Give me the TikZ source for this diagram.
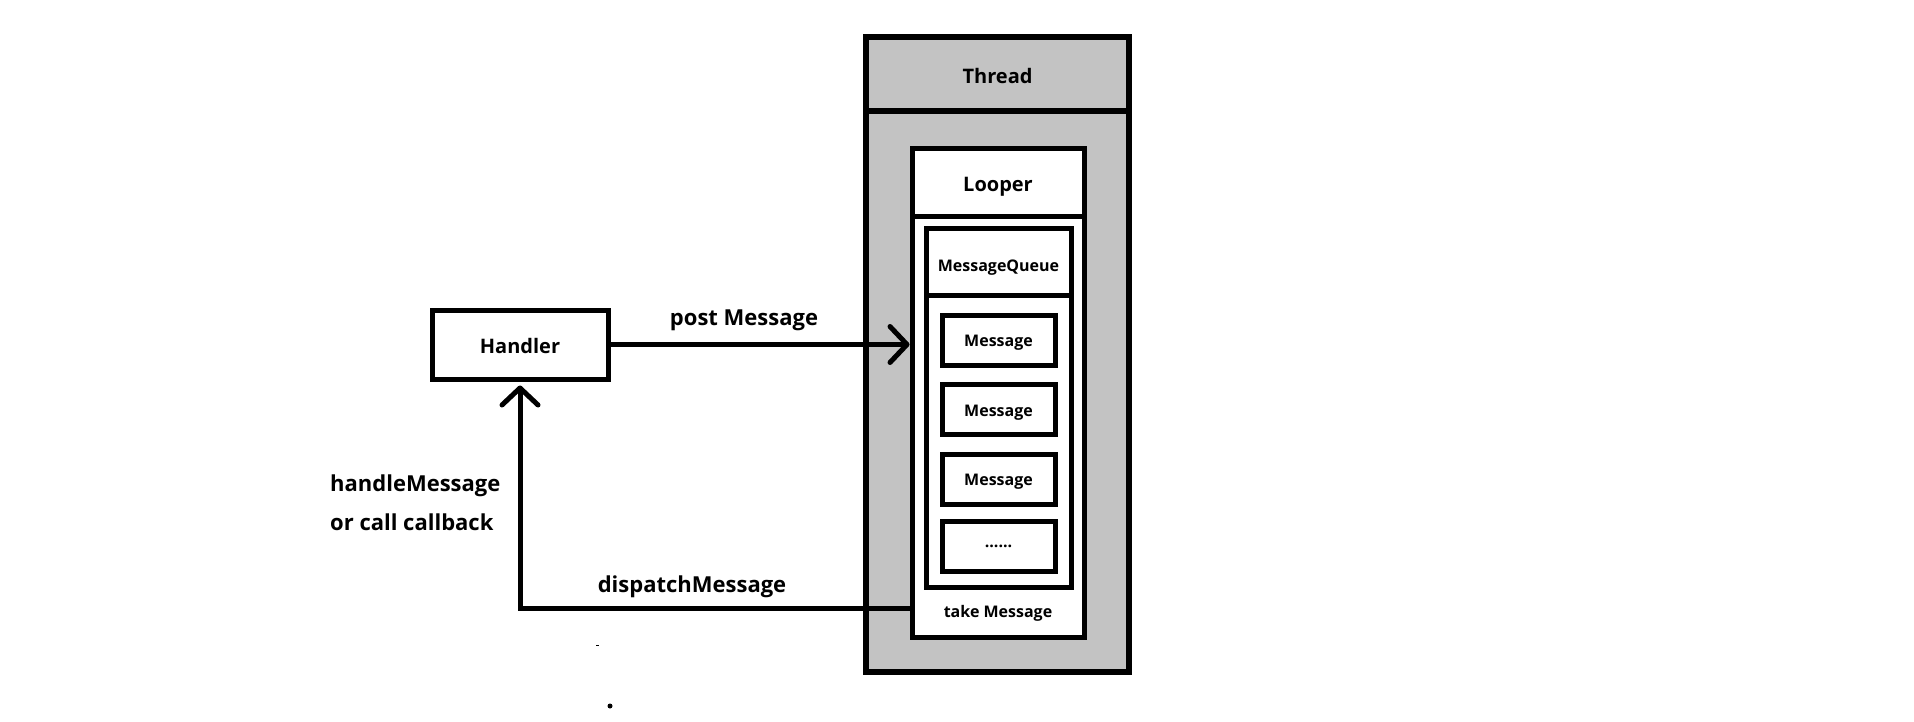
\documentclass[tikz,border=0pt]{standalone}
\usepackage{fontspec}
\setmainfont{Open Sans}
\usetikzlibrary{positioning}
\usetikzlibrary{arrows.meta}
\definecolor{threadgray}{RGB}{195,195,195}
\tikzstyle{box} = [draw, rectangle, line width=5pt, fill=white, inner sep=0pt, text height=19pt, text depth=0pt, font=\bfseries\fontsize{20}{24}\selectfont]
\tikzstyle{threadbox} = [box, line width=6.5pt, fill=threadgray]
\tikzstyle{msgbox} = [box, minimum width=113pt, minimum height=50pt, text height=13pt, font=\bfseries\fontsize{16}{19}\selectfont]
\tikzstyle{small} = [inner sep=0pt, font=\bfseries\fontsize{16}{19}\selectfont]
\tikzstyle{lbl} = [inner sep=0pt, font=\bfseries\fontsize{22}{39}\selectfont]
\tikzstyle{flow} = [line width=5pt, -{Straight Barb[length=17pt, width=36pt, round]}]

\begin{document}
\begin{tikzpicture}[x=1pt, y=-1pt]
  \useasboundingbox (0,0) rectangle (1914,722);

  % thread with its looper and queue
  \node[threadbox, minimum width=263pt, minimum height=561pt] (threadbody) at (997.5,391.5) {};
  \node[threadbox, minimum width=263pt, minimum height=74pt, text height=20pt] (thread) at (997.5,74) {Thread};
  \node[box, minimum width=172pt, minimum height=420pt] (looperbody) at (998,427) {};
  \node[box, minimum width=172pt, minimum height=68pt, text height=18pt] (looper) at (998,183) {Looper};
  \node[box, minimum width=145pt, minimum height=292pt] (queuebody) at (998.5,441) {};
  \node[box, minimum width=145pt, minimum height=66pt, text height=18pt, font=\bfseries\fontsize{16}{19}\selectfont] (queue) at (998.5,262) {MessageQueue};

  \node[msgbox] (msg1) at (998.5,340) {Message};
  \node[msgbox] (msg2) at (998.5,409.5) {Message};
  \node[msgbox] (msg3) at (998.5,479) {Message};
  \node[msgbox, text height=, text depth=] (msg4) at (998.5,546.5) {......};
  \node[small] (take) at (998,613) {take Message};

  % handler side
  \node[box, minimum width=176pt, minimum height=69pt, text height=18pt] (handler) at (520,344.5) {Handler};
  \node[lbl] (post) at (744,320) {post Message};
  \node[lbl] (dispatch) at (692,587) {dispatchMessage};
  \node[lbl, align=left, anchor=west] (handle) at (330,503) {handleMessage\\or call callback};

  \coordinate (takept) at (912,608);
  \draw[flow] (handler.east) -- (handler.east -| looperbody.west);
  \draw[flow, shorten >=4pt] (takept) -| (handler.south);

  \draw[line width=1pt] (596,645) -- (599,645);
  \fill (610,706) circle (2.5pt);
\end{tikzpicture}
\end{document}
